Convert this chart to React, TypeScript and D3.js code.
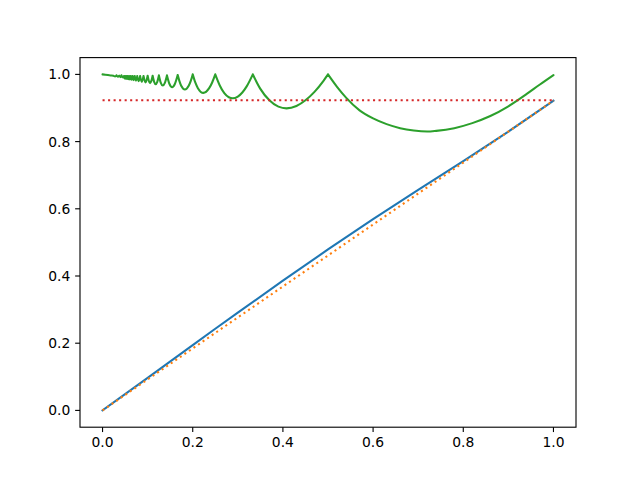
import React from 'react';
import * as d3 from 'd3';

const xTicks = [0, 0.2, 0.4, 0.6, 0.8, 1.0];
const yTicks = [0, 0.2, 0.4, 0.6, 0.8, 1.0];

const blueX = [0, 0.1, 0.2, 0.25, 0.3, 0.4, 0.5, 0.6, 0.7, 0.8, 0.9, 1.0];
const blueY = [0, 0.097, 0.194, 0.243, 0.291, 0.386, 0.479, 0.569, 0.656, 0.742, 0.830, 0.922];

const orangeX = [0, 1];
const orangeY = [0, 0.922];

const redX = [0, 1];
const redY = [0.923, 0.923];

const greenX = [
  0.0, 0.006, 0.012, 0.018, 0.024, 0.028, 0.031, 0.034, 0.037, 0.040, 0.042, 0.045, 0.0476,
  0.0488, 0.05, 0.0513, 0.05263, 0.05407, 0.05556, 0.05717, 0.05882, 0.06063, 0.0625,
  0.06455, 0.06667, 0.06901, 0.07143, 0.07412, 0.07692, 0.08006, 0.08333, 0.08704, 0.09091,
  0.09535, 0.1,
  0.10267, 0.10541, 0.10822, 0.11111,
  0.11443, 0.11785, 0.12137, 0.125,
  0.12924, 0.13363, 0.13817, 0.14286,
  0.14847, 0.1543, 0.16037, 0.16667,
  0.17051, 0.17443, 0.18257, 0.19109, 0.19549, 0.2,
  0.20566, 0.21148, 0.22361, 0.23644, 0.24313, 0.25,
  0.26, 0.27, 0.28, 0.2887, 0.30, 0.31, 0.32, 0.33333,
  0.35, 0.37, 0.39, 0.408, 0.43, 0.45, 0.47, 0.49, 0.5,
  0.52, 0.54, 0.57, 0.60, 0.63, 0.66, 0.69, 0.72, 0.74, 0.78, 0.82, 0.86, 0.90, 0.94, 0.97, 1.0,
];
const greenY = [
  1.0, 0.999, 0.998, 0.997, 0.996, 0.994, 0.997, 0.993, 0.996, 0.992, 0.997, 0.991, 0.995,
  0.988, 0.995, 0.987, 0.995, 0.9865, 0.995, 0.986, 0.995, 0.985, 0.995,
  0.984, 0.995, 0.983, 0.995, 0.9815, 0.995, 0.98, 0.995, 0.978, 0.995,
  0.976, 0.996,
  0.9805, 0.974, 0.9805, 0.996,
  0.978, 0.971, 0.978, 0.997,
  0.975, 0.967, 0.975, 0.997,
  0.9715, 0.962, 0.9715, 0.998,
  0.98, 0.966, 0.955, 0.966, 0.98, 1.0,
  0.976, 0.959, 0.945, 0.959, 0.976, 1.0,
  0.967, 0.944, 0.932, 0.929, 0.934, 0.946, 0.965, 1.0,
  0.957, 0.923, 0.904, 0.899, 0.906, 0.923, 0.948, 0.981, 1.0,
  0.963, 0.931, 0.893, 0.869, 0.852, 0.840, 0.833, 0.830, 0.832, 0.840, 0.855, 0.876, 0.905, 0.941, 0.970, 0.998,
];

export default function App() {
  const W = 640, H = 480;
  const left = 80, right = 576, top = 57.6, bottom = 427.2;
  const x = d3.scaleLinear().domain([-0.05, 1.05]).range([left, right]);
  const y = d3.scaleLinear().domain([-0.05, 1.05]).range([bottom, top]);
  const fmt = d3.format('.1f');
  const fs = 13.89;
  const tickLen = 4.86;
  const pad = 4.86;
  const lw = 2.08;

  const lin = d3.line<[number, number]>().x(d => x(d[0])).y(d => y(d[1]));
  const pts = (xs: number[], ys: number[]) => xs.map((v, i) => [v, ys[i]] as [number, number]);

  // green: split at local maxima (cusps), smooth each arch
  const gp = pts(greenX, greenY);
  const segs: [number, number][][] = [];
  let cur: [number, number][] = [gp[0]];
  for (let i = 1; i < gp.length; i++) {
    cur.push(gp[i]);
    const isMax = i < gp.length - 1 && gp[i][1] > gp[i - 1][1] && gp[i][1] > gp[i + 1][1];
    if (isMax) {
      segs.push(cur);
      cur = [gp[i]];
    }
  }
  if (cur.length > 1) segs.push(cur);
  const mono = d3.line<[number, number]>().x(d => x(d[0])).y(d => y(d[1])).curve(d3.curveMonotoneX);
  const greenPath = segs.map(s => mono(s) || '').join('');

  return (
    <svg width={W} height={H} style={{ position: 'absolute', left: 0, top: 0, background: '#fff' }}
      fontFamily="DejaVu Sans, sans-serif">
      <rect x={0} y={0} width={W} height={H} fill="#fff" />
      <path d={lin(pts(blueX, blueY)) || ''} fill="none" stroke="#1f77b4" strokeWidth={lw}
        strokeLinejoin="round" strokeLinecap="square" />
      <path d={lin(pts(orangeX, orangeY)) || ''} fill="none" stroke="#ff7f0e" strokeWidth={lw}
        strokeDasharray="2.08 3.44" />
      <path d={greenPath} fill="none" stroke="#2ca02c" strokeWidth={lw}
        strokeLinejoin="round" strokeLinecap="round" />
      <path d={lin(pts(redX, redY)) || ''} fill="none" stroke="#d62728" strokeWidth={lw}
        strokeDasharray="2.08 3.44" />
      <rect x={left} y={top} width={right - left} height={bottom - top} fill="none" stroke="#000" strokeWidth={1.11} />
      {xTicks.map(t => (
        <g key={'x' + t}>
          <line x1={x(t)} x2={x(t)} y1={bottom} y2={bottom + tickLen} stroke="#000" strokeWidth={1.11} />
          <text x={x(t)} y={bottom + tickLen + pad + fs * 0.76} fontSize={fs} textAnchor="middle" fill="#000">{fmt(t)}</text>
        </g>
      ))}
      {yTicks.map(t => (
        <g key={'y' + t}>
          <line x1={left - tickLen} x2={left} y1={y(t)} y2={y(t)} stroke="#000" strokeWidth={1.11} />
          <text x={left - tickLen - pad} y={y(t) + fs * 0.36} fontSize={fs} textAnchor="end" fill="#000">{fmt(t)}</text>
        </g>
      ))}
    </svg>
  );
}
